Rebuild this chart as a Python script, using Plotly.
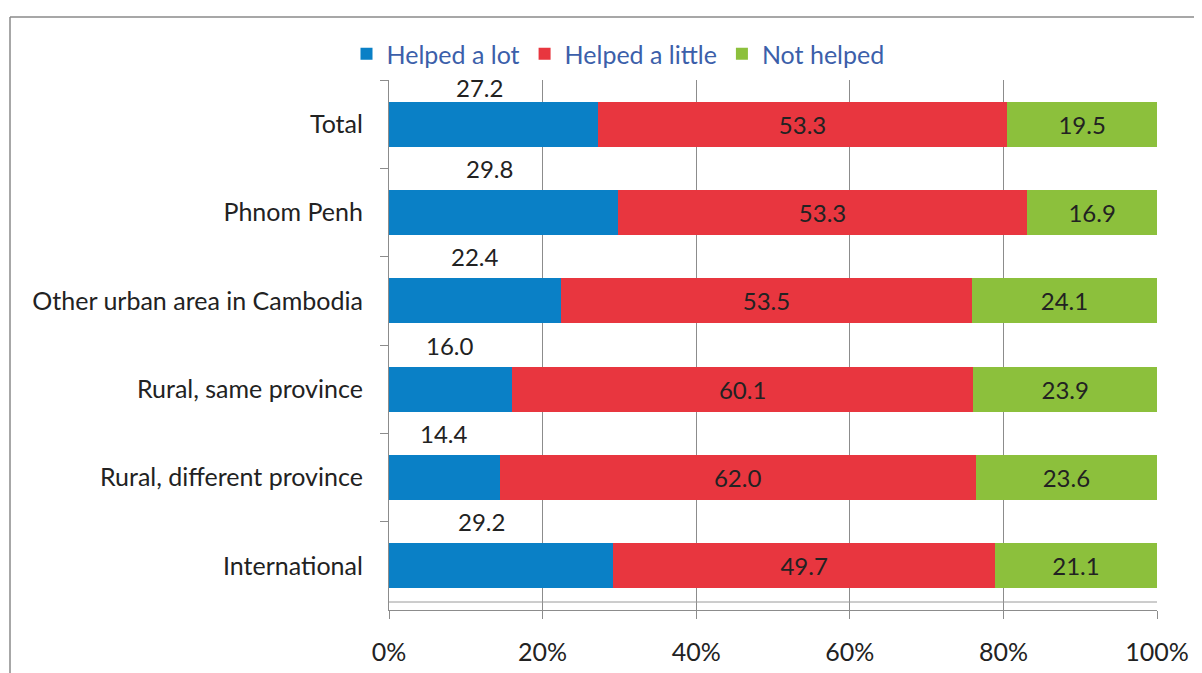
import plotly.graph_objects as go

categories = ["Total", "Phnom Penh", "Other urban area in Cambodia",
              "Rural, same province", "Rural, different province", "International"]
helped_lot = [27.2, 29.8, 22.4, 16.0, 14.4, 29.2]
helped_little = [53.3, 53.3, 53.5, 60.1, 62.0, 49.7]
not_helped = [19.5, 16.9, 24.1, 23.9, 23.6, 21.1]
series_names = ["Helped a lot", "Helped a little", "Not helped"]
x_ticks = [0, 20, 40, 60, 80, 100]
x_tick_labels = ["0%", "20%", "40%", "60%", "80%", "100%"]

colors = ["#0A80C6", "#E8363F", "#8CC03C"]
FONT = "Lato"
FS = 25

fig = go.Figure()
fig.add_trace(go.Bar(y=categories, x=helped_lot, orientation="h", name=series_names[0],
                     marker=dict(color=colors[0], line=dict(width=0)),
                     hoverinfo="x+name"))
fig.add_trace(go.Bar(y=categories, x=helped_little, orientation="h", name=series_names[1],
                     marker=dict(color=colors[1], line=dict(width=0)),
                     text=[f"{v:.1f}" for v in helped_little], textposition="inside",
                     insidetextanchor="middle", constraintext="none",
                     textfont=dict(family=FONT, size=FS - 1, color="#222222")))
fig.add_trace(go.Bar(y=categories, x=not_helped, orientation="h", name=series_names[2],
                     marker=dict(color=colors[2], line=dict(width=0)),
                     text=[f"{v:.1f}" for v in not_helped], textposition="inside",
                     insidetextanchor="middle", constraintext="none",
                     textfont=dict(family=FONT, size=FS - 1, color="#222222")))

# labels of the first segment sit above each bar
label_yshift = [37, 44, 44, 44, 44, 44]
label_xshift = [-14, -14, 0, 0, 0, -20]
for cat, v, ys, xs in zip(categories, helped_lot, label_yshift, label_xshift):
    fig.add_annotation(x=v / 2, y=cat, xref="x", yref="y", text=f"{v:.1f}",
                       showarrow=False, yshift=ys, xshift=xs,
                       font=dict(family=FONT, size=FS - 1, color="#222222"))

# outer frame (top and left edges visible)
fx = (10 - 389) / 768
fy = (610 - 17) / 530
fig.add_shape(type="line", xref="paper", yref="paper", x0=fx, x1=1.1, y0=fy, y1=fy,
              line=dict(color="#8a8a8a", width=1.5))
fig.add_shape(type="line", xref="paper", yref="paper", x0=fx, x1=fx, y0=fy, y1=-0.2,
              line=dict(color="#8a8a8a", width=1.5))
# faint second line just above the axis
fig.add_shape(type="line", xref="paper", yref="paper", x0=0, x1=1, y0=8 / 530, y1=8 / 530,
              line=dict(color="#9a9a9a", width=1))

fig.update_layout(
    barmode="stack",
    bargap=0.49,
    width=1202, height=673,
    margin=dict(l=381, r=53, t=72, b=71),
    paper_bgcolor="white", plot_bgcolor="white",
    font=dict(family=FONT, size=FS, color="#222222"),
    showlegend=True,
    legend=dict(orientation="h", x=(618 - 389) / 768, xanchor="center",
                y=(610 - 54) / 530, yanchor="middle",
                font=dict(family=FONT, size=FS, color="#3C5FAA"),
                itemwidth=30, traceorder="normal", bgcolor="rgba(0,0,0,0)"),
    xaxis=dict(range=[0, 100], tickvals=x_ticks, ticktext=x_tick_labels,
               showgrid=True, gridcolor="#8c8c8c", gridwidth=1.2,
               showline=True, linecolor="#8c8c8c", linewidth=1.2,
               ticks="outside", ticklen=8, tickcolor="#8c8c8c",
               ticklabelstandoff=12, zeroline=False,
               tickfont=dict(family=FONT, size=FS, color="#222222")),
    yaxis=dict(categoryorder="array", categoryarray=categories,
               range=[len(categories) - 0.5, -0.5], autorange=False,
               showline=True, linecolor="#8c8c8c", linewidth=1.2,
               ticks="outside", ticklen=8, tickcolor="#8c8c8c", tickson="boundaries",
               ticklabelstandoff=20, showgrid=False,
               tickfont=dict(family=FONT, size=FS, color="#222222")),
)

fig.write_html("out.html")
